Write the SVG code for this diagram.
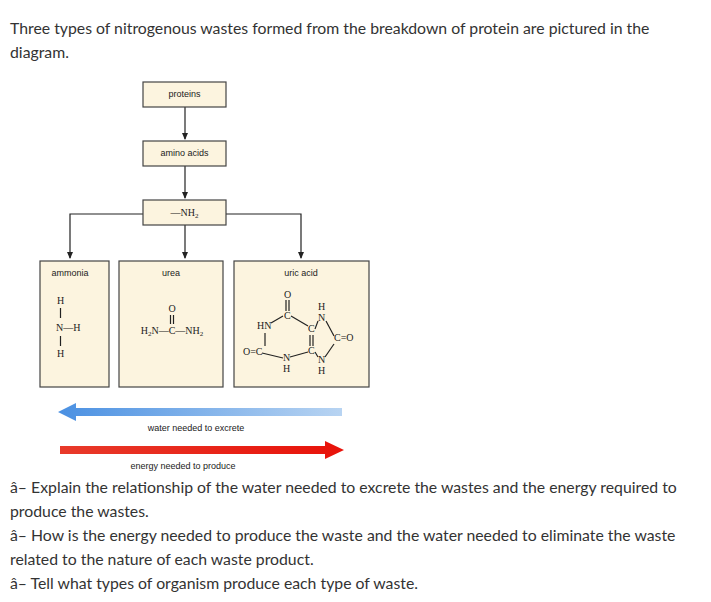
<svg xmlns="http://www.w3.org/2000/svg" width="711" height="602" viewBox="0 0 711 602">
<defs>
<style>
.q{font-family:Lato,"Open Sans",sans-serif;font-size:15.8px;fill:#333}
.b{fill:#fcf4df;stroke:#444;stroke-width:1.2}
.l{font-family:"Liberation Sans",Arial,sans-serif;font-size:9px;fill:#222}
.c{font-family:"Liberation Serif",serif;font-size:10px;fill:#222}
.w{stroke:#222;stroke-width:1.2;fill:none}
</style>
<marker id="a" markerWidth="8" markerHeight="8" refX="6" refY="4" orient="auto" markerUnits="userSpaceOnUse"><path d="M0,1 L7,4 L0,7z" fill="#222"/></marker>
<linearGradient id="bg" x1="0" x2="1"><stop offset="0" stop-color="#4a90e2"/><stop offset="1" stop-color="#b8d4f2"/></linearGradient>
<linearGradient id="rg" x1="0" x2="1"><stop offset="0" stop-color="#e83a2a"/><stop offset="1" stop-color="#e8120a"/></linearGradient>
</defs>
<rect width="711" height="602" fill="#fff"/>
<text class="q" x="10" y="34">Three types of nitrogenous wastes formed from the breakdown of protein are pictured in the</text>
<text class="q" x="10" y="58">diagram.</text>
<g id="connectors">
<line class="w" x1="185" y1="107" x2="185" y2="139" marker-end="url(#a)"/>
<line class="w" x1="185" y1="166" x2="185" y2="198" marker-end="url(#a)"/>
<polyline class="w" points="143,214 70,214 70,258" marker-end="url(#a)"/>
<polyline class="w" points="226,214 301,214 301,258" marker-end="url(#a)"/>
<line class="w" x1="185" y1="225" x2="185" y2="258" marker-end="url(#a)"/>
</g>
<g id="proteins"><rect class="b" x="143" y="82" width="83" height="25"/><text class="l" x="184.5" y="97" text-anchor="middle">proteins</text></g>
<g id="amino"><rect class="b" x="143" y="141" width="83" height="25"/><text class="l" x="184.5" y="156" text-anchor="middle">amino acids</text></g>
<g id="nh2"><rect class="b" x="143" y="200" width="83" height="25"/><text class="c" x="184.5" y="216" text-anchor="middle">—NH<tspan font-size="7" dy="2">2</tspan></text></g>
<g id="ammonia"><rect class="b" x="40" y="261" width="69" height="126"/><text class="l" x="70" y="276" text-anchor="middle">ammonia</text>
<text class="c" x="57" y="304">H</text><line class="w" x1="60.5" y1="308" x2="60.5" y2="318" stroke-width="0.8"/>
<text class="c" x="56" y="331">N—H</text><line class="w" x1="60.5" y1="336" x2="60.5" y2="346" stroke-width="0.8"/>
<text class="c" x="57" y="357">H</text></g>
<g id="urea"><rect class="b" x="119" y="261" width="104" height="126"/><text class="l" x="171" y="276" text-anchor="middle">urea</text>
<text class="c" x="172" y="312" text-anchor="middle">O</text>
<line class="w" x1="170.5" y1="315" x2="170.5" y2="324" stroke-width="0.8"/><line class="w" x1="173.5" y1="315" x2="173.5" y2="324" stroke-width="0.8"/>
<text class="c" x="172" y="334" text-anchor="middle">H<tspan font-size="7" dy="2">2</tspan><tspan dy="-2">N—C—NH</tspan><tspan font-size="7" dy="2">2</tspan></text></g>
<g id="uric"><rect class="b" x="234" y="261" width="135" height="126"/><text class="l" x="301" y="276" text-anchor="middle">uric acid</text>
<g class="c" font-size="9">
<text x="284" y="298">O</text><text x="284" y="319">C</text><text x="257" y="329">HN</text><text x="308" y="332">C</text><text x="318" y="310">H</text><text x="318" y="321">N</text>
<text x="334" y="341">C=O</text><text x="243" y="355">O=C</text><text x="308" y="354">C</text><text x="283" y="361">N</text><text x="283" y="372">H</text><text x="318" y="363">N</text><text x="318" y="374">H</text>
</g>
<g class="w" stroke-width="0.7">
<line x1="286" y1="300" x2="286" y2="311"/><line x1="289" y1="300" x2="289" y2="311"/>
<line x1="271" y1="323" x2="283" y2="316"/><line x1="291" y1="316" x2="308" y2="326"/>
<line x1="315" y1="329" x2="318" y2="321"/><line x1="326" y1="321" x2="334" y2="336"/>
<line x1="265" y1="333" x2="265" y2="346"/><line x1="310" y1="335" x2="310" y2="346"/><line x1="313" y1="335" x2="313" y2="346"/>
<line x1="262" y1="353" x2="283" y2="358"/><line x1="290" y1="357" x2="308" y2="352"/><line x1="315" y1="352" x2="318" y2="357"/><line x1="325" y1="357" x2="334" y2="344"/>
</g></g>
<g id="water"><polygon points="58,412 76,403 76,408 342,408 342,416 76,416 76,421" fill="url(#bg)"/><text class="l" x="196" y="431" text-anchor="middle">water needed to excrete</text></g>
<g id="energy"><polygon points="60,446 325,446 325,441 344,450 325,459 325,454 60,454" fill="url(#rg)"/><text class="l" x="183" y="469" text-anchor="middle">energy needed to produce</text></g>
<text class="q" x="10" y="493">â– Explain the relationship of the water needed to excrete the wastes and the energy required to</text>
<text class="q" x="10" y="517">produce the wastes.</text>
<text class="q" x="10" y="541">â– How is the energy needed to produce the waste and the water needed to eliminate the waste</text>
<text class="q" x="10" y="565">related to the nature of each waste product.</text>
<text class="q" x="10" y="589">â– Tell what types of organism produce each type of waste.</text>
</svg>
